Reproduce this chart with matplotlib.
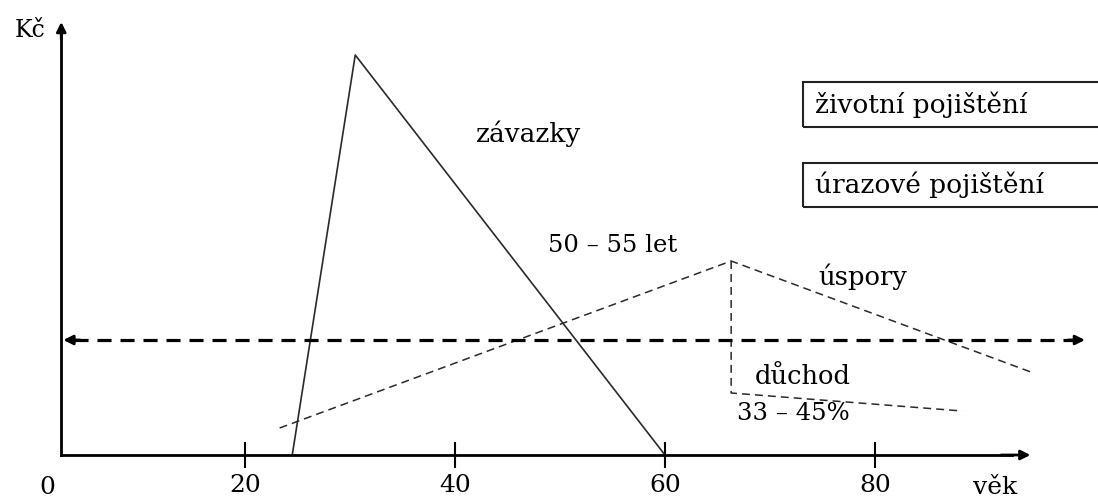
import matplotlib.pyplot as plt
from matplotlib.patches import Rectangle

# age (x) and amount (y, arbitrary units)
zavazky_x = [24.5, 30.5, 60]
zavazky_y = [0, 100, 0]

uspory_x = [23.3, 66.3, 95.1]
uspory_y = [6.75, 48.5, 20.5]

duchod_x = [66.3, 66.3, 88.3]
duchod_y = [48.5, 15.5, 11]

hranice_x = [2.7, 100]
hranice_y = [28.75, 28.75]

ticks = [20, 40, 60, 80]
tick_labels = ["20", "40", "60", "80"]

plt.rcParams['font.family'] = ['DejaVu Serif']

fig = plt.figure(figsize=(10.98, 4.98), dpi=100)
ax = fig.add_axes([0, 0, 1, 1])
ax.set_xlim(-35 / 10.5, (1098 - 35) / 10.5)
ax.set_ylim(-10.75, 113.75)

x0 = 2.5
for s in ["top", "right"]:
    ax.spines[s].set_visible(False)
ax.spines["left"].set_position(("data", x0))
ax.spines["bottom"].set_position(("data", 0))
ax.spines["left"].set_bounds(0, 106)
ax.spines["bottom"].set_bounds(x0, 93)
ax.spines["left"].set_linewidth(2)
ax.spines["bottom"].set_linewidth(2)
ax.set_yticks([])
ax.set_xticks(ticks)
ax.set_xticklabels(tick_labels, fontsize=18)
ax.tick_params(axis="x", direction="inout", length=19, width=1.5, pad=4)

head = dict(arrowstyle="-|>", color="black", lw=2, mutation_scale=14,
            shrinkA=0, shrinkB=0)

# axis arrow heads
ax.annotate("", xy=(x0, 108.25), xytext=(x0, 104), arrowprops=head)
ax.annotate("", xy=(94.8, 0), xytext=(92, 0), arrowprops=head)

ax.plot(zavazky_x, zavazky_y, color="#2a2a2a", lw=1.2)
ax.plot(uspory_x, uspory_y, color="#2a2a2a", lw=1.1, dashes=(5.2, 3.3))
ax.plot(duchod_x, duchod_y, color="#2a2a2a", lw=1.1, dashes=(5.2, 3.3))

# dashed double arrow
ax.plot([hranice_x[0] + 1, hranice_x[1] - 1], hranice_y, color="black", lw=2.3,
        dashes=(4.4, 2.8))
ax.annotate("", xy=(hranice_x[0], hranice_y[0]), xytext=(hranice_x[0] + 1.6, hranice_y[0]),
            arrowprops=head)
ax.annotate("", xy=(hranice_x[1], hranice_y[1]), xytext=(hranice_x[1] - 1.6, hranice_y[1]),
            arrowprops=head)

fs = 18.5
ax.text(-0.5, 106.25, "Kč", fontsize=17, ha="center", va="center")
ax.text(1.2, -8, "0", fontsize=18, ha="center", va="center")
ax.text(91.4, -8.2, "věk", fontsize=18, ha="center", va="center")
ax.text(47, 80.25, "závazky", fontsize=19, ha="center", va="center")
ax.text(55, 52.5, "50 – 55 let", fontsize=fs - 1, ha="center", va="center")
ax.text(78.8, 44.5, "úspory", fontsize=fs, ha="center", va="center")
ax.text(73.1, 19.75, "důchod", fontsize=fs, ha="center", va="center")
ax.text(72.2, 10.5, "33 – 45%", fontsize=fs - 1, ha="center", va="center")

ax.add_patch(Rectangle((73.1, 82), 35, 11.25, fill=False, lw=1.5, ec="#222222"))
ax.add_patch(Rectangle((73.1, 62), 35, 11, fill=False, lw=1.5, ec="#222222"))
ax.text(74.3, 87.6, "životní pojištění", fontsize=19, ha="left", va="center")
ax.text(74.3, 67.5, "úrazové pojištění", fontsize=19, ha="left", va="center")

fig.savefig("out.png", dpi=100)
